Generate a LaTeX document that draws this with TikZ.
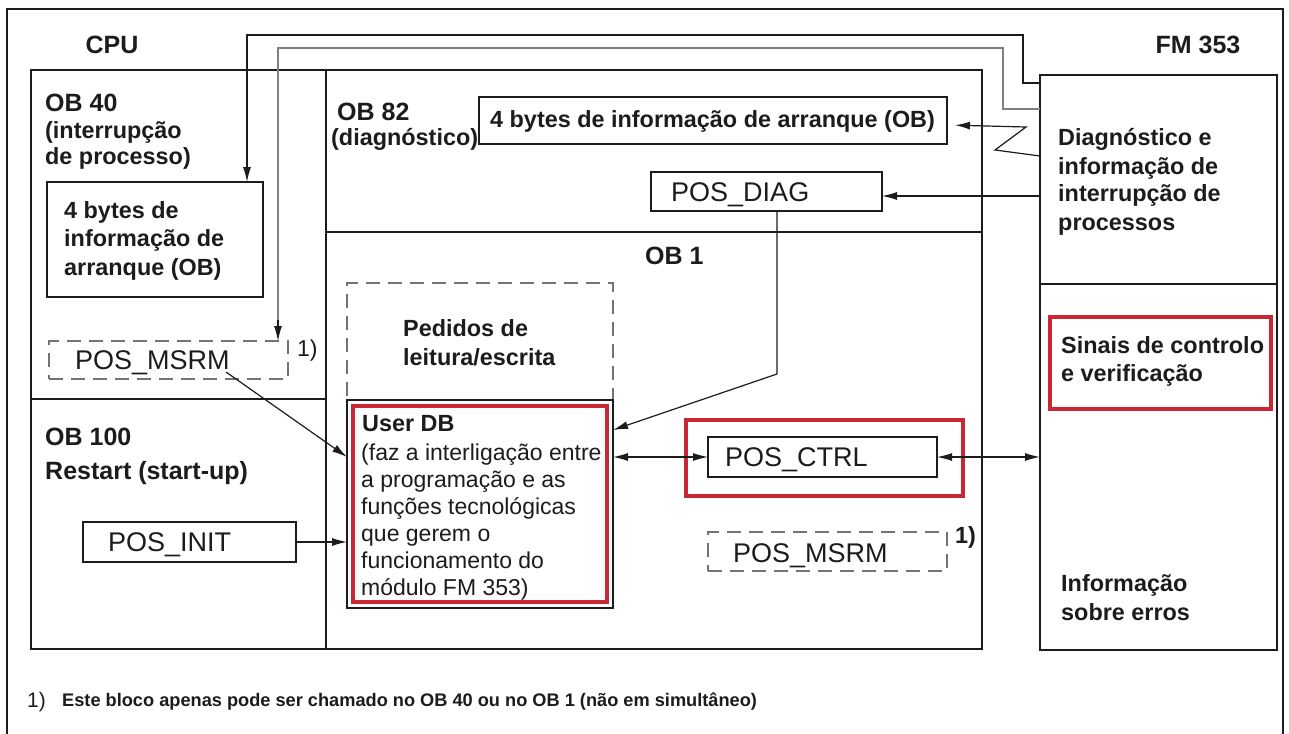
\documentclass[tikz,border=0pt]{standalone}
\usepackage{fontspec}
\setmainfont{Liberation Sans}
\usetikzlibrary{arrows.meta}
\definecolor{hred}{RGB}{200,40,52}
\definecolor{ink}{RGB}{28,28,28}
\begin{document}
\begin{tikzpicture}[x=1pt,y=-1pt,
  >={Latex[length=15pt,width=8pt]},
  line/.style={draw=ink,line width=1.4pt},
  box/.style={line,inner sep=0pt,outer sep=0pt,anchor=north west},
  dbox/.style={draw=black!55,line width=1.4pt,dash pattern=on 14pt off 8pt,inner sep=0pt,outer sep=0pt,anchor=north west},
  redbox/.style={draw=hred,line width=4pt,inner sep=0pt,outer sep=0pt,anchor=north west},
  ttl/.style={font=\fontsize{25}{30}\selectfont\bfseries,anchor=base west,yshift=-9pt,inner sep=0pt,text=ink},
  ctl/.style={ttl,anchor=base},
  btxt/.style={font=\fontsize{23.4}{28}\selectfont\bfseries,anchor=base west,yshift=-8pt,inner sep=0pt,text=ink},
  rtxt/.style={font=\fontsize{23}{27}\selectfont,anchor=base west,yshift=-8pt,inner sep=0pt,text=ink},
  ptxt/.style={font=\fontsize{27}{30}\selectfont,anchor=base west,yshift=-9.5pt,inner sep=0pt,text=ink},
  ftxt/.style={font=\fontsize{18.2}{22}\selectfont\bfseries,anchor=base west,yshift=-6.5pt,inner sep=0pt,text=ink},
  conn/.style={draw=ink,line width=1.2pt},
  gconn/.style={draw=black!50,line width=1.4pt},
]
\path[use as bounding box] (0,0) rectangle (1289,733);
\fill[white] (0,0) rectangle (1289,733);
% outer frame
\draw[line] (7,760) -- (7,9) -- (1283,9) -- (1283,760);

% containers
\node[box,minimum width=951pt,minimum height=579pt] (cpu) at (31,70) {};
\node[box,minimum width=237pt,minimum height=575pt] (fm) at (1040,75) {};
\draw[line] (326,70) -- (326,649);
\draw[line] (31,399) -- (326,399);
\draw[line] (326,232) -- (982,232);
\draw[line] (1040,284) -- (1277,284);

% boxes
\node[box,minimum width=216pt,minimum height=115pt] (ob40info) at (47,182) {};
\node[dbox,minimum width=239pt,minimum height=38pt] (msrm1) at (49,341) {};
\node[box,minimum width=213pt,minimum height=40pt] (posinit) at (83,522) {};
\node[box,minimum width=468pt,minimum height=47pt] (ob82info) at (479,97) {};
\node[box,minimum width=231pt,minimum height=39pt] (posdiag) at (651,172) {};
\node[dbox,minimum width=266pt,minimum height=117pt] (pedidos) at (347,283) {};
\node[box,fill=white,minimum width=266pt,minimum height=208pt] (userdb) at (347,400) {};
\node[redbox,minimum width=254pt,minimum height=196pt] (userdbred) at (353,406) {};
\node[redbox,minimum width=277pt,minimum height=76pt] (posctrlred) at (686,420) {};
\node[box,minimum width=229pt,minimum height=40pt] (posctrl) at (708,437) {};
\node[dbox,minimum width=239pt,minimum height=39pt] (msrm2) at (708,532) {};
\node[redbox,minimum width=221pt,minimum height=92pt] (sinais) at (1050,317) {};

% texts
\node[ctl] (tcpu) at (112,45) {CPU};
\node[ctl] (tfm) at (1198,45) {FM 353};
\node[ttl] (tob40) at (45,102) {OB 40};
\node[btxt] (tob40b) at (45,130) {(interrupção};
\node[btxt] (tob40c) at (45,156) {de processo)};
\node[btxt] (ti1) at (64,210) {4 bytes de};
\node[btxt] (ti2) at (64,238) {informação de};
\node[btxt] (ti3) at (64,267) {arranque (OB)};
\node[ptxt] (tms1) at (75,360) {POS\_MSRM};
\node[rtxt] (tfn1) at (297,348) {1)};
\node[ttl] (tob100) at (45,436) {OB 100};
\node[ttl] (trst) at (45,470) {Restart (start-up)};
\node[ptxt] (tinit) at (108,542) {POS\_INIT};
\node[ttl] (tob82) at (337,112) {OB 82};
\node[btxt] (tdiag) at (331,138) {(diagnóstico)};
\node[btxt] (t82i) at (490,120) {4 bytes de informação de arranque (OB)};
\node[ptxt] (tpd) at (671,192) {POS\_DIAG};
\node[ttl] (tob1) at (645,255) {OB 1};
\node[btxt] (tped1) at (403,328) {Pedidos de};
\node[btxt] (tped2) at (403,357) {leitura/escrita};
\node[btxt] (tudb) at (362,423) {User DB};
\node[rtxt] (tu1) at (361,452) {(faz a interligação entre};
\node[rtxt] (tu2) at (361,479) {a programação e as};
\node[rtxt] (tu3) at (361,506) {funções tecnológicas};
\node[rtxt] (tu4) at (361,533) {que gerem o};
\node[rtxt] (tu5) at (361,560) {funcionamento do};
\node[rtxt] (tu6) at (361,587) {módulo FM 353)};
\node[ptxt] (tctrl) at (725,457) {POS\_CTRL};
\node[ptxt] (tms2) at (733,553) {POS\_MSRM};
\node[btxt] (tfn2) at (955,535) {1)};
\node[btxt] (ts1) at (1061,345) {Sinais de controlo};
\node[btxt] (ts2) at (1061,373) {e verificação};
\node[btxt] (td1) at (1058,137) {Diagnóstico e};
\node[btxt] (td2) at (1058,166) {informação de};
\node[btxt] (td3) at (1058,193) {interrupção de};
\node[btxt] (td4) at (1058,222) {processos};
\node[btxt] (tinf1) at (1061,583) {Informação};
\node[btxt] (tinf2) at (1061,612) {sobre erros};
\node[ftxt,font=\fontsize{21}{24}\selectfont,yshift=-1pt] (tfoot1) at (27,700) {1)};
\node[ftxt] (tfoot2) at (62,700) {Este bloco apenas pode ser chamado no OB 40 ou no OB 1 (não em simultâneo)};

% connectors
\coordinate (msrmout) at (226,372);
\draw[conn,->] (fm.west |- 0,83) -- (1023,83) -- (1023,35) -- (247,35) -- (247,35 |- ob40info.north);
\draw[gconn] (fm.west |- 0,109) -- (1003,109) -- (1003,48) -- (278,48) -- (278,330);
\draw[conn,->] (278,320) -- (278,320 |- msrm1.north);
\draw[conn,->,shorten >=8pt] (fm.west |- 0,156) -- (995,150) -- (1026,127) -- (ob82info.east |- 0,125);
\draw[conn,->] (fm.west |- 0,196) -- (posdiag.east |- 0,196);
\draw[conn,->] (posdiag.south -| 777,0) -- (777,374) -- (userdb.east |- 0,430);
\draw[conn,->] (msrmout) -- (userdb.west |- 0,457);
\draw[conn,->] (posinit.east) -- (userdb.west |- posinit.east);
\draw[conn,<->] (userdb.east |- 0,457) -- (posctrl.west |- 0,457);
\draw[conn,<->] (posctrl.east |- 0,457) -- (fm.west |- 0,457);
\end{tikzpicture}
\end{document}
